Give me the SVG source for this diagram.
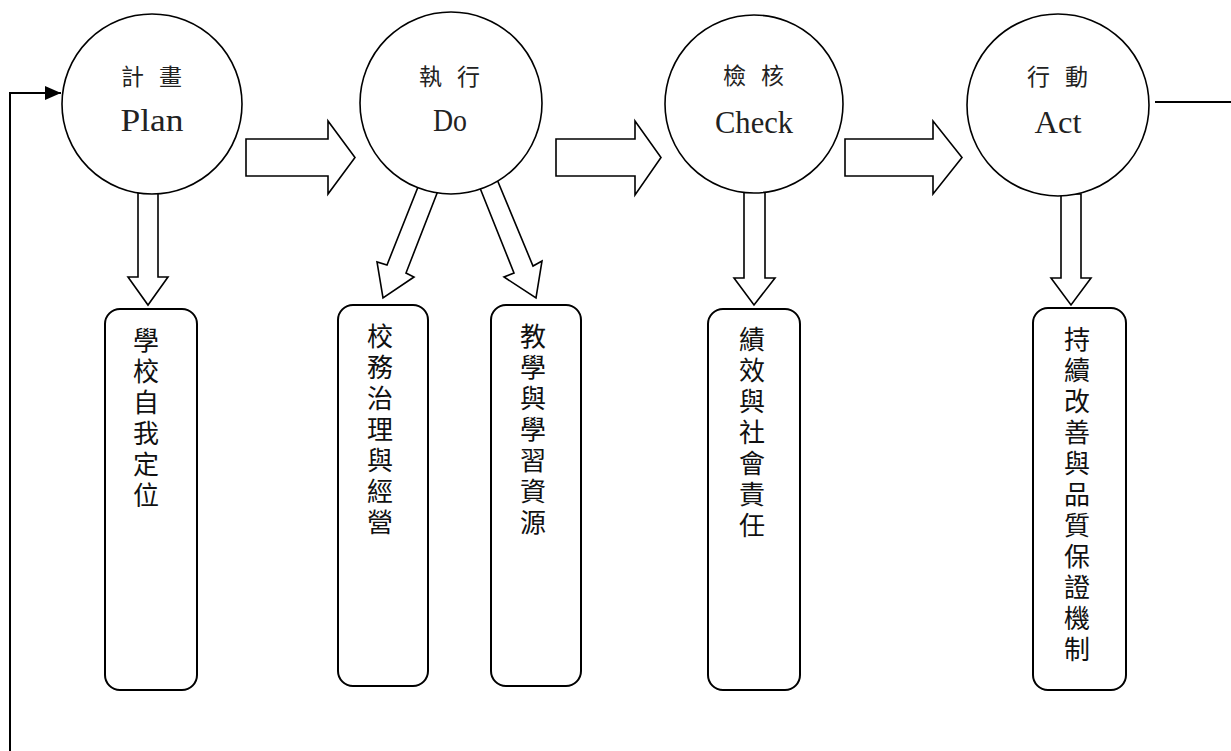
<svg xmlns="http://www.w3.org/2000/svg" width="1231" height="751" viewBox="0 0 1231 751">
<style>
.c{fill:#fff;stroke:#000;stroke-width:1.6}
.b{fill:#fff;stroke:#000;stroke-width:2}
.a{fill:#fff;stroke:#000;stroke-width:1.6;stroke-linejoin:miter}
.l{fill:none;stroke:#000;stroke-width:2}
.zh{font-family:"Noto Sans CJK TC","Noto Sans CJK SC",sans-serif;font-size:23px;fill:#222;text-anchor:middle;letter-spacing:15px}
.en{font-family:"Liberation Serif",serif;font-size:32px;fill:#222;text-anchor:middle}
.v{font-family:"Noto Sans CJK TC","Noto Sans CJK SC",sans-serif;font-size:26px;fill:#111;writing-mode:vertical-rl;letter-spacing:5px}
</style>
<defs>
<marker id="ah" viewBox="0 0 16 14" refX="16" refY="7" markerWidth="16" markerHeight="14" markerUnits="userSpaceOnUse" orient="auto">
<path d="M0,0 L16,7 L0,14 Z" fill="#000"/>
</marker>
</defs>
<g id="connectors">
<polyline class="l" points="10,751 10,93 61,93" marker-end="url(#ah)"/>
<line class="l" x1="1155" y1="102" x2="1231" y2="102"/>
<polygon class="a" points="246,139 328,139 328,121 355,157.5 328,194 328,176 246,176"/>
<polygon class="a" points="556,139 635,139 635,121 661,157.5 635,195 635,176 556,176"/>
<polygon class="a" points="845,139 933,139 933,121 962,157.5 933,194 933,176 845,176"/>
<polygon class="a" points="138,193 158,193 158,277 168,277 148,305 128,277 138,277"/>
<polygon class="a" points="744,192 765,192 765,278 775,278 754,305 734,278 744,278"/>
<polygon class="a" points="1061,194 1081,194 1081,278 1091,278 1071,305 1051,278 1061,278"/>
<polygon class="a" points="422,177 441,183 406,273 414,277 383,298 377,262 387,265"/>
<polygon class="a" points="478,183 496,177 533,266 542,261 536,298 504,277 514,273"/>
</g>
<g id="plan">
<circle class="c" cx="152" cy="104" r="90"/>
<text class="zh" x="159" y="85">計畫</text>
<text class="en" x="152" y="131" textLength="63" lengthAdjust="spacingAndGlyphs">Plan</text>
</g>
<g id="do">
<circle class="c" cx="451" cy="103" r="91"/>
<text class="zh" x="457" y="85">執行</text>
<text class="en" x="450" y="131" textLength="34" lengthAdjust="spacingAndGlyphs">Do</text>
</g>
<g id="check">
<circle class="c" cx="754" cy="104" r="89"/>
<text class="zh" x="761" y="84">檢核</text>
<text class="en" x="754" y="133" textLength="78" lengthAdjust="spacingAndGlyphs">Check</text>
</g>
<g id="act">
<circle class="c" cx="1058" cy="105" r="91"/>
<text class="zh" x="1065" y="85">行動</text>
<text class="en" x="1058" y="133" textLength="47" lengthAdjust="spacingAndGlyphs">Act</text>
</g>
<g id="box-plan">
<rect class="b" x="105" y="309" width="92" height="381" rx="15"/>
<text class="v" x="146" y="327">學校自我定位</text>
</g>
<g id="box-do1">
<rect class="b" x="338" y="305" width="90" height="381" rx="15"/>
<text class="v" x="380" y="323">校務治理與經營</text>
</g>
<g id="box-do2">
<rect class="b" x="491" y="305" width="90" height="381" rx="15"/>
<text class="v" x="533" y="323">教學與學習資源</text>
</g>
<g id="box-check">
<rect class="b" x="708" y="309" width="92" height="381" rx="15"/>
<text class="v" x="752" y="326">績效與社會責任</text>
</g>
<g id="box-act">
<rect class="b" x="1033" y="308" width="93" height="382" rx="15"/>
<text class="v" x="1077" y="326">持續改善與品質保證機制</text>
</g>
</svg>
